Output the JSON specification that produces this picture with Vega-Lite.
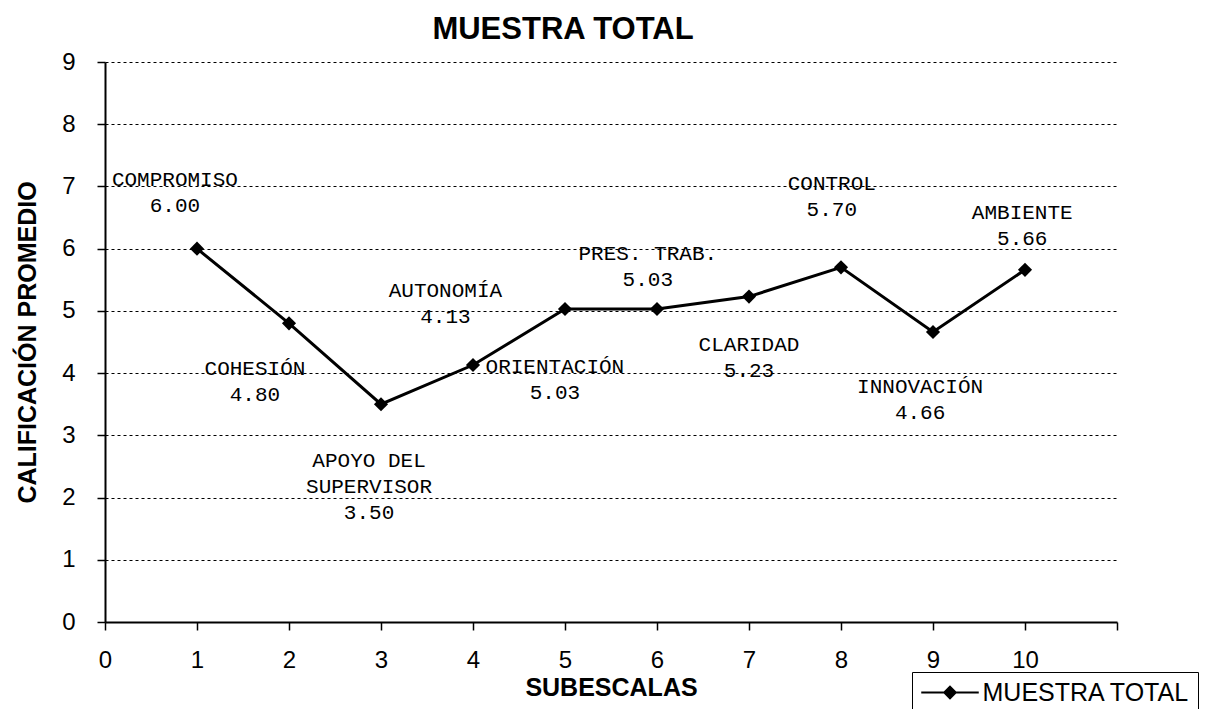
{
  "$schema": "https://vega.github.io/schema/vega-lite/v6.json",
  "width": 1012,
  "height": 560,
  "autosize": "none",
  "padding": {"left": 105, "top": 62, "right": 93, "bottom": 87},
  "background": "white",
  "title": {
    "text": "MUESTRA TOTAL",
    "font": "Liberation Sans",
    "fontSize": 31,
    "fontWeight": "bold",
    "color": "black",
    "anchor": "middle",
    "dx": -48,
    "dy": 33,
    "baseline": "alphabetic",
    "offset": 13
  },
  "config": {
    "view": {"stroke": null},
    "axis": {
      "domainColor": "black",
      "domainWidth": 2,
      "tickColor": "black",
      "tickWidth": 1.5,
      "tickSize": 8,
      "labelFont": "Liberation Sans",
      "labelFontSize": 24,
      "labelColor": "black",
      "titleFont": "Liberation Sans",
      "titleFontSize": 25,
      "titleFontWeight": "bold",
      "titleColor": "black"
    }
  },
  "datasets": {
    "scores": [
      {"subescala": 1, "calificacion": 6.00, "serie": "MUESTRA TOTAL"},
      {"subescala": 2, "calificacion": 4.80, "serie": "MUESTRA TOTAL"},
      {"subescala": 3, "calificacion": 3.50, "serie": "MUESTRA TOTAL"},
      {"subescala": 4, "calificacion": 4.13, "serie": "MUESTRA TOTAL"},
      {"subescala": 5, "calificacion": 5.03, "serie": "MUESTRA TOTAL"},
      {"subescala": 6, "calificacion": 5.03, "serie": "MUESTRA TOTAL"},
      {"subescala": 7, "calificacion": 5.23, "serie": "MUESTRA TOTAL"},
      {"subescala": 8, "calificacion": 5.70, "serie": "MUESTRA TOTAL"},
      {"subescala": 9, "calificacion": 4.66, "serie": "MUESTRA TOTAL"},
      {"subescala": 10, "calificacion": 5.66, "serie": "MUESTRA TOTAL"}
    ],
    "labels": [
      {"lx": 0.76, "ly": 7.01, "label": ["COMPROMISO", "6.00"]},
      {"lx": 1.63, "ly": 3.97, "label": ["COHESIÓN", "4.80"]},
      {"lx": 2.87, "ly": 2.49, "label": ["APOYO DEL", "SUPERVISOR", "3.50"]},
      {"lx": 3.70, "ly": 5.22, "label": ["AUTONOMÍA", "4.13"]},
      {"lx": 4.89, "ly": 4.00, "label": ["ORIENTACIÓN", "5.03"]},
      {"lx": 5.90, "ly": 5.82, "label": ["PRES. TRAB.", "5.03"]},
      {"lx": 7.00, "ly": 4.36, "label": ["CLARIDAD", "5.23"]},
      {"lx": 7.90, "ly": 6.94, "label": ["CONTROL", "5.70"]},
      {"lx": 8.86, "ly": 3.68, "label": ["INNOVACIÓN", "4.66"]},
      {"lx": 9.97, "ly": 6.48, "label": ["AMBIENTE", "5.66"]}
    ]
  },
  "layer": [
    {
      "data": {"name": "scores"},
      "mark": {
        "type": "line",
        "strokeWidth": 3,
        "point": {"shape": "diamond", "size": 200, "filled": true, "opacity": 1}
      },
      "encoding": {
        "x": {
          "field": "subescala",
          "type": "quantitative",
          "scale": {"domain": [0, 11], "nice": false, "zero": true},
          "axis": {
            "title": "SUBESCALAS",
            "values": [0, 1, 2, 3, 4, 5, 6, 7, 8, 9, 10, 11],
            "format": "d",
            "labelExpr": "datum.value == 11 ? '' : datum.label",
            "grid": false,
            "labelPadding": 18,
            "labelFlush": false,
            "titleY": 73,
            "titleX": 506,
            "titleBaseline": "alphabetic",
            "titleAnchor": null
          }
        },
        "y": {
          "field": "calificacion",
          "type": "quantitative",
          "scale": {"domain": [0, 9], "nice": false},
          "axis": {
            "title": "CALIFICACIÓN PROMEDIO",
            "values": [0, 1, 2, 3, 4, 5, 6, 7, 8, 9],
            "format": "d",
            "grid": true,
            "gridColor": "black",
            "gridDash": [3, 3],
            "gridWidth": 1,
            "gridOpacity": 1,
            "labelPadding": 22,
            "labelFlush": false,
            "titleX": -70,
            "titleY": 280,
            "titleAngle": -90,
            "titleBaseline": "alphabetic",
            "titleAlign": "center"
          }
        },
        "color": {
          "field": "serie",
          "type": "nominal",
          "scale": {"range": ["black"]},
          "legend": {
            "title": null,
            "orient": "none",
            "legendX": 807,
            "legendY": 610,
            "direction": "vertical",
            "strokeColor": "black",
            "fillColor": "white",
            "padding": 8,
            "symbolType": "M-2.5,0H2.5M0,-0.5L0.5,0L0,0.5L-0.5,0Z",
            "symbolSize": 529,
            "symbolOffset": 17.5,
            "symbolStrokeWidth": 2,
            "symbolFillColor": "black",
            "symbolStrokeColor": "black",
            "labelOffset": 20,
            "labelFont": "Liberation Sans",
            "labelFontSize": 25,
            "labelColor": "black",
            "labelLimit": 400,
            "encode": {
              "symbols": {
                "update": {
                  "fill": {"value": "black"},
                  "stroke": {"value": "black"},
                  "strokeWidth": {"value": 2},
                  "opacity": {"value": 1}
                }
              }
            }
          }
        }
      }
    },
    {
      "data": {"name": "labels"},
      "mark": {
        "type": "text",
        "font": "Liberation Mono",
        "fontSize": 21,
        "align": "center",
        "baseline": "alphabetic",
        "lineHeight": 26,
        "color": "black"
      },
      "encoding": {
        "x": {"field": "lx", "type": "quantitative"},
        "y": {"field": "ly", "type": "quantitative"},
        "text": {"field": "label"}
      }
    }
  ]
}
